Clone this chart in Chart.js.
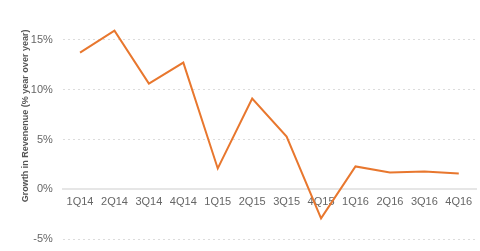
<!DOCTYPE html>
<html><head><meta charset="utf-8">
<script src="https://cdn.jsdelivr.net/npm/chart.js@4/dist/chart.umd.min.js"></script>
<style>html,body{margin:0;padding:0;background:#fff;overflow:hidden}#w{width:480px;height:243px;margin-top:13px}</style>
</head><body><div id="w"><canvas id="c"></canvas></div>
<script>
const categories = ["1Q14","2Q14","3Q14","4Q14","1Q15","2Q15","3Q15","4Q15","1Q16","2Q16","3Q16","4Q16"];
const growth = [13.7,15.9,10.6,12.7,2.1,9.1,5.3,-2.9,2.3,1.7,1.8,1.6];
const yTicks = [-5,0,5,10,15];
const yTitle = "Growth in Revenenue (% year over year)";

new Chart(document.getElementById('c'), {
  type: 'line',
  data: { labels: categories, datasets: [{ data: growth, borderColor: '#E8772E', borderWidth: 2, pointRadius: 0, tension: 0, fill: false, clip: false }] },
  options: {
    responsive: true, maintainAspectRatio: false, animation: false,
    layout: { padding: { top: 0, bottom: 0, left: 20, right: 4 } },
    plugins: { legend: { display: false }, tooltip: { enabled: false } },
    scales: {
      x: {
        position: { y: 0 },
        offset: true,
        grid: { display: false, drawTicks: false },
        border: { display: true, color: '#e6e6e6', width: 2 },
        ticks: { color: '#666', font: { family: 'Liberation Sans, Arial', size: 11 }, padding: 6, maxRotation: 0, autoSkip: false }
      },
      y: {
        min: -5, max: 16,
        afterBuildTicks: s => { s.ticks = yTicks.map(v => ({ value: v })); },
        grid: { color: '#dcdcdc', lineWidth: 1, drawTicks: false },
        border: { display: false, dash: [2, 3] },
        ticks: { color: '#666', font: { family: 'Liberation Sans, Arial', size: 11 }, padding: 10, callback: v => v + '%' },
        title: { display: true, text: yTitle, align: 'end', color: '#555', font: { family: 'Liberation Sans, Arial', size: 9, weight: 'bold' }, padding: { top: 0, bottom: -10 } }
      }
    }
  }
});
</script></body></html>
